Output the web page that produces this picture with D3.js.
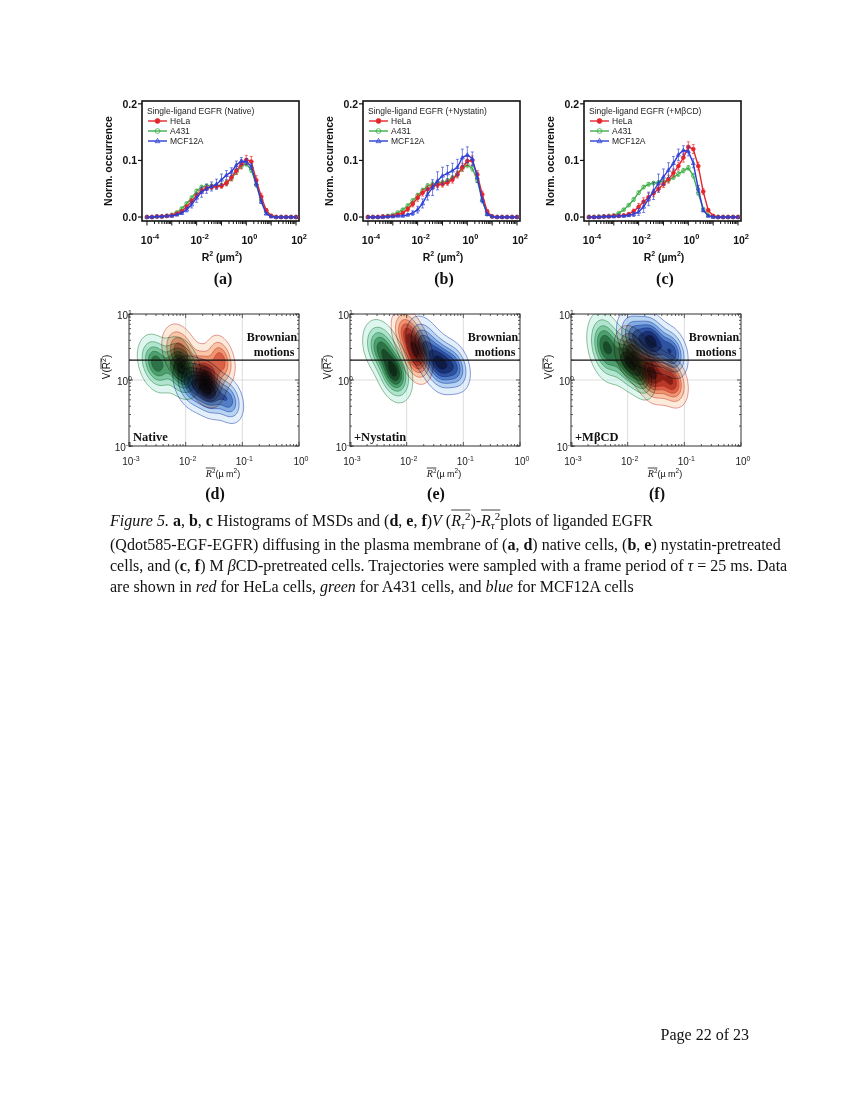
<!DOCTYPE html>
<html>
<head>
<meta charset="utf-8">
<script src="https://cdn.jsdelivr.net/npm/d3@7"></script>
<style>
  body { margin: 0; background: #fff; }
  svg { display: block; }
  text { white-space: pre; }
</style>
</head>
<body>
<svg width="850" height="1100"></svg>
<script>
// ---- data ----
// histogram bins, log10(R^2 / um^2)
const binLog = [-4,-3.8,-3.6,-3.4,-3.2,-3,-2.8,-2.6,-2.4,-2.2,-2,-1.8,-1.6,-1.4,-1.2,-1,-0.8,-0.6,-0.4,-0.2,0,0.2,0.4,0.6,0.8,1,1.2,1.4,1.6,1.8,2];
const cellLines = ['HeLa', 'A431', 'MCF12A'];
const topTitles = ['Single-ligand EGFR (Native)', 'Single-ligand EGFR (+Nystatin)', 'Single-ligand EGFR (+M\u03b2CD)'];
const treatLabels = ['Native', '+Nystatin', '+M\u03b2CD'];
const topPanelNames = ['(a)', '(b)', '(c)'];
const botPanelNames = ['(d)', '(e)', '(f)'];
const yTicksTop = [0, 0.1, 0.2];
const xTicksTop = [-4, -2, 0, 2];
const xTicksBot = [-3, -2, -1, 0];
const yTicksBot = [-1, 0, 1];
const brownianV = 2;

const helaNative = [0,0,0.001,0.001,0.002, 0.003,0.006,0.010,0.018,0.028, 0.038,0.047,0.051,0.053,0.054, 0.055,0.060,0.070,0.082,0.093, 0.101,0.098,0.065,0.036,0.012, 0.002,0,0,0,0,0];
const a431Native = [0,0,0.001,0.001,0.002, 0.004,0.008,0.015,0.024,0.034, 0.046,0.053,0.055,0.055,0.055, 0.056,0.060,0.068,0.080,0.090, 0.094,0.083,0.057,0.030,0.010, 0.002,0,0,0,0,0];
const mcfNative  = [0,0,0.001,0.001,0.002, 0.002,0.004,0.007,0.013,0.022, 0.034,0.044,0.050,0.054,0.058, 0.066,0.074,0.080,0.092,0.099, 0.098,0.089,0.059,0.027,0.006, 0.001,0,0,0,0,0];
const helaNys = [0,0,0,0.001,0.001, 0.002,0.004,0.007,0.014,0.023, 0.034,0.043,0.049,0.054,0.057, 0.058,0.061,0.066,0.075,0.088, 0.099,0.100,0.075,0.040,0.010, 0.001,0,0,0,0,0];
const a431Nys = [0,0,0,0.001,0.002, 0.004,0.008,0.013,0.020,0.029, 0.038,0.047,0.055,0.058,0.060, 0.061,0.064,0.069,0.076,0.086, 0.092,0.086,0.065,0.030,0.005, 0.001,0,0,0,0,0];
const mcfNys  = [0,0,0,0,0.001, 0.001,0.002,0.002,0.004,0.007, 0.013,0.024,0.040,0.052,0.064, 0.073,0.077,0.082,0.088,0.105, 0.110,0.103,0.070,0.030,0.005, 0.001,0,0,0,0,0];
const helaMbcd = [0,0,0,0.001,0.001, 0.002,0.002,0.003,0.005,0.010, 0.018,0.027,0.035,0.042,0.050, 0.058,0.067,0.078,0.090,0.105, 0.124,0.120,0.090,0.045,0.012, 0.002,0,0,0,0,0];
const a431Mbcd = [0,0,0.001,0.001,0.002, 0.003,0.007,0.013,0.021,0.031, 0.043,0.053,0.058,0.060,0.061, 0.063,0.065,0.070,0.076,0.082, 0.087,0.073,0.042,0.014,0.003, 0.001,0,0,0,0,0];
const mcfMbcd  = [0,0,0,0.001,0.001, 0.001,0.002,0.002,0.003,0.005, 0.009,0.018,0.032,0.046,0.060, 0.071,0.083,0.095,0.110,0.118, 0.116,0.095,0.050,0.012,0.002, 0,0,0,0,0,0];

const errHelaNative = [0,0,0,0,0, 0,0.001,0.002,0.003,0.004, 0.004,0.004,0.004,0.004,0.004, 0.004,0.005,0.006,0.007,0.008, 0.008,0.009,0.008,0.006,0.003, 0,0,0,0,0,0];
const errA431Native = [0,0,0,0,0, 0,0.001,0.002,0.002,0.003, 0.003,0.003,0.003,0.003,0.004, 0.004,0.004,0.004,0.004,0.004, 0.004,0.004,0.004,0.003,0.002, 0,0,0,0,0,0];
const errMcfNative  = [0,0,0,0,0, 0,0.001,0.002,0.004,0.006, 0.008,0.009,0.008,0.008,0.009, 0.010,0.008,0.007,0.007,0.006, 0.005,0.005,0.004,0.003,0.002, 0,0,0,0,0,0];
const errHelaNys = [0,0,0,0,0, 0,0.001,0.002,0.004,0.005, 0.006,0.006,0.006,0.005,0.005, 0.005,0.005,0.006,0.006,0.007, 0.008,0.008,0.007,0.006,0.003, 0,0,0,0,0,0];
const errA431Nys = [0,0,0,0,0, 0,0.001,0.002,0.003,0.003, 0.004,0.004,0.004,0.004,0.004, 0.004,0.004,0.004,0.005,0.005, 0.005,0.005,0.004,0.003,0.002, 0,0,0,0,0,0];
const errMcfNys  = [0,0,0,0,0, 0,0,0.001,0.002,0.004, 0.006,0.008,0.010,0.014,0.016, 0.015,0.014,0.013,0.014,0.015, 0.014,0.012,0.009,0.005,0.002, 0,0,0,0,0,0];
const errHelaMbcd = [0,0,0,0,0, 0,0,0.001,0.002,0.004, 0.006,0.007,0.007,0.006,0.006, 0.006,0.007,0.007,0.007,0.008, 0.009,0.008,0.007,0.005,0.003, 0,0,0,0,0,0];
const errA431Mbcd = [0,0,0,0,0, 0,0.001,0.002,0.002,0.003, 0.003,0.003,0.003,0.003,0.003, 0.003,0.003,0.003,0.004,0.004, 0.004,0.004,0.003,0.002,0.001, 0,0,0,0,0,0];
const errMcfMbcd  = [0,0,0,0,0, 0,0,0.001,0.002,0.004, 0.006,0.010,0.012,0.015,0.016, 0.014,0.013,0.012,0.010,0.008, 0.008,0.008,0.006,0.003,0.001, 0,0,0,0,0,0];

// density lobes for V(R2)-R2 plots: [log10 R2, log10 V, sx, sy, weight]
const lobesNativeGreen = [[-2.52,0.25,0.15,0.2,0.7],[-2.08,0.18,0.15,0.2,1.0]];
const lobesNativeRed   = [[-2.1,0.42,0.15,0.2,0.6],[-1.65,0.05,0.15,0.2,1.0],[-1.38,0.3,0.12,0.18,0.55]];
const lobesNativeBlue  = [[-1.9,-0.05,0.15,0.19,0.7],[-1.6,-0.15,0.15,0.19,1.0],[-1.25,-0.3,0.13,0.17,0.6]];
const lobesNysGreen = [[-2.45,0.48,0.15,0.2,0.7],[-2.22,0.12,0.14,0.2,1.0]];
const lobesNysRed   = [[-2.0,0.72,0.13,0.18,0.6],[-1.83,0.4,0.13,0.2,1.0]];
const lobesNysBlue  = [[-1.7,0.55,0.15,0.2,0.6],[-1.42,0.25,0.15,0.2,1.0],[-1.15,0.2,0.13,0.18,0.6]];
const lobesMbcdGreen = [[-2.38,0.5,0.15,0.24,0.85],[-1.98,0.28,0.15,0.2,1.0],[-1.75,0.05,0.12,0.17,0.5]];
const lobesMbcdRed   = [[-1.92,0.4,0.15,0.2,0.6],[-1.57,0.1,0.15,0.2,1.0],[-1.22,-0.02,0.13,0.18,0.75]];
const lobesMbcdBlue  = [[-1.88,0.65,0.15,0.2,0.6],[-1.57,0.58,0.15,0.2,1.0],[-1.22,0.42,0.13,0.18,0.75]];

const hist = [
  [helaNative, a431Native, mcfNative],
  [helaNys, a431Nys, mcfNys],
  [helaMbcd, a431Mbcd, mcfMbcd]
];
const histErr = [
  [errHelaNative, errA431Native, errMcfNative],
  [errHelaNys, errA431Nys, errMcfNys],
  [errHelaMbcd, errA431Mbcd, errMcfMbcd]
];
const lobes = [
  {green: lobesNativeGreen, red: lobesNativeRed, blue: lobesNativeBlue},
  {green: lobesNysGreen, red: lobesNysRed, blue: lobesNysBlue},
  {green: lobesMbcdGreen, red: lobesMbcdRed, blue: lobesMbcdBlue}
];

// ---- drawing ----
const svg = d3.select('svg');
const sans = 'Liberation Sans, Arial, sans-serif';
const serif = 'Liberation Serif, Times New Roman, serif';
const lineColor = ['#e3262b', '#3fae49', '#2b3fd6'];

// power-of-ten label: "10" + superscript
function pow10(sel, e, size, bold) {
  sel.append('tspan').text('10');
  sel.append('tspan').attr('dy', -size*0.45).attr('font-size', size*0.7).text(e);
  sel.attr('font-size', size).attr('font-weight', bold ? 'bold' : 'normal');
}

// lays out a list of styled runs on one baseline, with optional overlines
function runs(g, x, y, parts, base) {
  let cx = x, ovStart = null;
  parts.forEach(p => {
    const size = p.size || base.size;
    const t = g.append('text')
      .attr('x', cx).attr('y', y + (p.dy || 0))
      .attr('font-family', p.font || base.font)
      .attr('font-size', size)
      .attr('font-style', p.it ? 'italic' : 'normal')
      .attr('font-weight', p.b ? 'bold' : 'normal')
      .attr('fill', '#111')
      .text(p.t);
    if (p.ov0) ovStart = cx;
    cx += t.node().getComputedTextLength();
    if (p.ov1) {
      g.append('line').attr('x1', ovStart).attr('x2', cx)
        .attr('y1', y - p.ovY).attr('y2', y - p.ovY)
        .attr('stroke', '#111').attr('stroke-width', 0.8);
    }
  });
  return cx;
}

function marker(g, pts, s, r) {
  const c = lineColor[s];
  if (s === 2) {
    g.selectAll(null).data(pts).enter().append('path')
      .attr('d', d => `M${d[0]},${d[1]-r*1.1}L${d[0]+r},${d[1]+r*0.7}L${d[0]-r},${d[1]+r*0.7}Z`)
      .attr('fill', 'none').attr('stroke', c).attr('stroke-width', 0.8);
  } else {
    g.selectAll(null).data(pts).enter().append('circle')
      .attr('cx', d => d[0]).attr('cy', d => d[1]).attr('r', r)
      .attr('fill', s === 0 ? c : 'none').attr('stroke', c).attr('stroke-width', 0.8);
  }
}

// ---------- top row: histograms ----------
hist.forEach((series, k) => {
  const left = 142 + k*221, right = left + 157, top = 101, bottom = 221;
  const x = d3.scaleLog().domain([Math.pow(10, -4.2), Math.pow(10, 2.12)]).range([left, right]);
  const y = d3.scaleLinear().domain([-0.007, 0.205]).range([bottom, top]);
  const g = svg.append('g');

  // frame
  g.append('rect').attr('x', left).attr('y', top).attr('width', right-left).attr('height', bottom-top)
    .attr('fill', 'none').attr('stroke', '#111').attr('stroke-width', 1.6);

  // x ticks (outward), minor included
  const xt = [];
  for (let e = -4; e <= 2; e++) {
    for (let m = 1; m <= 9; m++) {
      const v = m * Math.pow(10, e);
      if (v > Math.pow(10, 2.1)) break;
      xt.push({v, major: m === 1});
    }
  }
  g.selectAll('.xt').data(xt).enter().append('line')
    .attr('x1', d => x(d.v)).attr('x2', d => x(d.v))
    .attr('y1', bottom).attr('y2', d => bottom + (d.major ? 4.5 : 3))
    .attr('stroke', '#111').attr('stroke-width', 1);
  g.selectAll('.xl').data(xTicksTop).enter().append('text')
    .attr('x', d => x(Math.pow(10, d)) + 3).attr('y', 244)
    .attr('text-anchor', 'middle').attr('font-family', sans).attr('fill', '#111')
    .each(function(d) { pow10(d3.select(this), d, 10.5, true); });

  // y ticks
  g.selectAll('.yt').data(yTicksTop).enter().append('line')
    .attr('x1', left - 4).attr('x2', left).attr('y1', d => y(d)).attr('y2', d => y(d))
    .attr('stroke', '#111').attr('stroke-width', 1.2);
  g.selectAll('.yl').data(yTicksTop).enter().append('text')
    .attr('x', left - 5).attr('y', d => y(d) + 3.8)
    .attr('text-anchor', 'end').attr('font-family', sans).attr('font-weight', 'bold')
    .attr('font-size', 10.5).attr('fill', '#111')
    .text(d => d.toFixed(1));

  // axis titles
  g.append('text')
    .attr('transform', `translate(${left - 30},161) rotate(-90)`)
    .attr('text-anchor', 'middle').attr('font-family', sans).attr('font-weight', 'bold')
    .attr('font-size', 10.5).attr('fill', '#111').text('Norm. occurrence');
  const xt2 = g.append('text').attr('x', left + 80).attr('y', 261)
    .attr('text-anchor', 'middle').attr('font-family', sans).attr('font-weight', 'bold')
    .attr('font-size', 10.5).attr('fill', '#111');
  xt2.append('tspan').text('R');
  xt2.append('tspan').attr('dy', -5).attr('font-size', 7).text('2');
  xt2.append('tspan').attr('dy', 5).text(' (\u00b5m');
  xt2.append('tspan').attr('dy', -5).attr('font-size', 7).text('2');
  xt2.append('tspan').attr('dy', 5).text(')');

  // panel label
  g.append('text').attr('x', left + 81).attr('y', 284).attr('text-anchor', 'middle')
    .attr('font-family', serif).attr('font-weight', 'bold').attr('font-size', 16)
    .attr('fill', '#111').text(topPanelNames[k]);

  // series: green first, then red, then blue on top
  const order = [1, 0, 2];
  const line = d3.line().x((d, i) => x(Math.pow(10, binLog[i]))).y(d => y(d));
  order.forEach(s => {
    const vals = series[s], errs = histErr[k][s], c = lineColor[s];
    const sg = g.append('g');
    // error bars
    const eb = vals.map((v, i) => ({v, e: errs[i], i})).filter(d => d.e > 0);
    sg.selectAll('.eb').data(eb).enter().append('path')
      .attr('d', d => {
        const px = x(Math.pow(10, binLog[d.i])), y0 = y(d.v - d.e), y1 = y(d.v + d.e);
        return `M${px},${y0}V${y1}M${px-1.5},${y1}H${px+1.5}M${px-1.5},${y0}H${px+1.5}`;
      })
      .attr('stroke', c).attr('stroke-width', 0.8).attr('fill', 'none').attr('opacity', 0.8);
    sg.append('path').datum(vals).attr('d', line)
      .attr('fill', 'none').attr('stroke', c).attr('stroke-width', 1.4);
    marker(sg, vals.map((v, i) => [x(Math.pow(10, binLog[i])), y(v)]), s, 1.9);
  });

  // legend
  const lg = g.append('g').attr('font-family', sans).attr('font-size', 8.5).attr('fill', '#222');
  lg.append('text').attr('x', left + 5).attr('y', 114).text(topTitles[k]);
  cellLines.forEach((name, s) => {
    const cy = 121 + s*10;
    lg.append('line').attr('x1', left + 6).attr('x2', left + 25).attr('y1', cy).attr('y2', cy)
      .attr('stroke', lineColor[s]).attr('stroke-width', 1.4);
    marker(lg, [[left + 15.5, cy]], s, 2.4);
    lg.append('text').attr('x', left + 28).attr('y', cy + 3).text(name);
  });
});

// ---------- bottom row: V(R2) vs R2 density contours ----------
const popStyle = {
  green: {ramp: ['#bdeee2', '#7dd0a4', '#3c9e60', '#1d5e34', '#0a2414'], stroke: '#4a9458'},
  red:   {ramp: ['#fad8b8', '#f39a68', '#dc4a36', '#9c1c1c', '#300606'], stroke: '#cf5a58'},
  blue:  {ramp: ['#c8e2f6', '#86b6e6', '#3a78c6', '#1b3f8c', '#081636'], stroke: '#3c58c0'}
};
const levels = [0.06, 0.18, 0.32, 0.46, 0.6, 0.75, 0.9];

lobes.forEach((pops, k) => {
  const left = 129 + k*221, right = left + 170, top = 314, bottom = 446;
  const x = d3.scaleLog().domain([1e-3, 1]).range([left, right]);
  const y = d3.scaleLog().domain([0.1, 10]).range([bottom, top]);
  const g = svg.append('g');
  const clipId = 'clip' + k;
  svg.append('defs').append('clipPath').attr('id', clipId).append('rect')
    .attr('x', left).attr('y', top).attr('width', right-left).attr('height', bottom-top);

  // grid
  [0.01, 0.1].forEach(v => g.append('line').attr('x1', x(v)).attr('x2', x(v)).attr('y1', top).attr('y2', bottom)
    .attr('stroke', '#cfcfcf').attr('stroke-width', 0.7));
  g.append('line').attr('x1', left).attr('x2', right).attr('y1', y(1)).attr('y2', y(1))
    .attr('stroke', '#cfcfcf').attr('stroke-width', 0.7);

  // density grid per population
  const cell = 2, nx = Math.ceil((right-left)/cell), ny = Math.ceil((bottom-top)/cell);
  const rho = -0.28;
  const cg = g.append('g').attr('clip-path', `url(#${clipId})`)
    .append('g').attr('transform', `translate(${left},${top})`);
  const path = d3.geoPath(d3.geoIdentity().scale(cell));
  ['green', 'red', 'blue'].forEach(name => {
    const lb = pops[name];
    const vals = new Float64Array(nx*ny);
    for (let j = 0; j < ny; j++) {
      const ly = Math.log10(y.invert(top + (j + 0.5)*cell));
      for (let i = 0; i < nx; i++) {
        const lx = Math.log10(x.invert(left + (i + 0.5)*cell));
        let s = 0;
        lb.forEach(b => {
          const dx = (lx - b[0]) / b[2], dy = (ly - b[1]) / b[3];
          s += b[4] * Math.exp(-(dx*dx - 2*rho*dx*dy + dy*dy) / (2*(1 - rho*rho)));
        });
        vals[j*nx + i] = s;
      }
    }
    const mx = d3.max(vals);
    const st = popStyle[name];
    const col = d3.scaleSequential(d3.interpolateRgbBasis(st.ramp)).domain([0, levels.length - 1]);
    const cs = d3.contours().size([nx, ny]).thresholds(levels.map(f => f*mx))(Array.from(vals));
    cg.selectAll(null).data(cs).enter().append('path')
      .attr('d', path)
      .attr('fill', (d, i) => col(i))
      .attr('fill-opacity', 0.5)
      .style('mix-blend-mode', 'multiply')
      .attr('stroke', st.stroke).attr('stroke-width', 0.7).attr('stroke-opacity', 0.85);
  });

  // Brownian line
  g.append('line').attr('x1', left).attr('x2', right).attr('y1', y(brownianV)).attr('y2', y(brownianV))
    .attr('stroke', '#111').attr('stroke-width', 1.4);

  // frame and inward ticks
  g.append('rect').attr('x', left).attr('y', top).attr('width', right-left).attr('height', bottom-top)
    .attr('fill', 'none').attr('stroke', '#333').attr('stroke-width', 1);
  const tk = [];
  for (let e = -3; e <= 0; e++) for (let m = 1; m <= 9; m++) {
    const v = m*Math.pow(10, e); if (v > 1) break; tk.push({v, major: m === 1});
  }
  const tky = [];
  for (let e = -1; e <= 1; e++) for (let m = 1; m <= 9; m++) {
    const v = m*Math.pow(10, e); if (v > 10) break; tky.push({v, major: m === 1});
  }
  g.selectAll('.tx').data(tk).enter().append('path')
    .attr('d', d => { const L = d.major ? 4 : 2; const px = x(d.v);
      return `M${px},${bottom}v${-L}M${px},${top}v${L}`; })
    .attr('stroke', '#333').attr('stroke-width', 0.8);
  g.selectAll('.ty').data(tky).enter().append('path')
    .attr('d', d => { const L = d.major ? 4 : 2; const py = y(d.v);
      return `M${left},${py}h${L}M${right},${py}h${-L}`; })
    .attr('stroke', '#333').attr('stroke-width', 0.8);

  // tick labels
  g.selectAll('.xl').data(xTicksBot).enter().append('text')
    .attr('x', d => x(Math.pow(10, d)) + 2).attr('y', 465)
    .attr('text-anchor', 'middle').attr('font-family', sans).attr('fill', '#222')
    .each(function(d) { pow10(d3.select(this), d, 10, false); });
  g.selectAll('.yl').data(yTicksBot).enter().append('text')
    .attr('x', left + 3).attr('y', d => y(Math.pow(10, d)) + 5)
    .attr('text-anchor', 'end').attr('font-family', sans).attr('fill', '#222')
    .each(function(d) { pow10(d3.select(this), d, 10, false); });

  // axis titles
  const xtg = g.append('g');
  const w0 = runs(xtg, 0, 0, [
    {t: 'R', it: true, font: serif, size: 10, ov0: true},
    {t: '2', font: serif, size: 7, dy: -4, ov1: true, ovY: 9},
    {t: '(\u00b5 m', font: sans, size: 9},
    {t: '2', font: sans, size: 6.5, dy: -4},
    {t: ')', font: sans, size: 9}
  ], {font: sans, size: 10});
  xtg.attr('transform', `translate(${left + 94 - w0/2},477)`);
  const ytg = g.append('g');
  const w1 = runs(ytg, 0, 0, [
    {t: 'V(', font: sans, size: 10},
    {t: 'R', font: sans, size: 10, ov0: true},
    {t: '2', font: sans, size: 7, dy: -4, ov1: true, ovY: 9},
    {t: ')', font: sans, size: 10}
  ], {font: sans, size: 10});
  ytg.attr('transform', `translate(${left - 19},${367 + w1/2}) rotate(-90)`);

  // annotations
  const ann = g.append('g').attr('font-family', serif).attr('font-weight', 'bold')
    .attr('font-size', 12).attr('fill', '#111').attr('text-anchor', 'middle');
  ann.append('text').attr('x', right - 27).attr('y', 341).text('Brownian');
  ann.append('text').attr('x', right - 25).attr('y', 356).text('motions');
  g.append('text').attr('x', left + 4).attr('y', 441).attr('font-family', serif)
    .attr('font-weight', 'bold').attr('font-size', 12.5).attr('fill', '#111').text(treatLabels[k]);

  g.append('text').attr('x', left + 86).attr('y', 499).attr('text-anchor', 'middle')
    .attr('font-family', serif).attr('font-weight', 'bold').attr('font-size', 16)
    .attr('fill', '#111').text(botPanelNames[k]);
});

// ---------- caption ----------
const cap = svg.append('g');
const base = {font: serif, size: 16};
runs(cap, 110, 526, [
  {t: 'Figure 5.', it: true}, {t: ' '}, {t: 'a', b: true}, {t: ', '}, {t: 'b', b: true}, {t: ', '},
  {t: 'c', b: true}, {t: ' Histograms of MSDs and ('}, {t: 'd', b: true}, {t: ', '}, {t: 'e', b: true},
  {t: ', '}, {t: 'f', b: true}, {t: ')'}, {t: 'V', it: true}, {t: ' ('},
  {t: 'R', it: true, ov0: true}, {t: '\u03c4', it: true, size: 11, dy: 3}, {t: '2', size: 11, dy: -6, ov1: true, ovY: 16},
  {t: ')-'}, {t: 'R', it: true, ov0: true}, {t: '\u03c4', it: true, size: 11, dy: 3}, {t: '2', size: 11, dy: -6, ov1: true, ovY: 16},
  {t: 'plots of liganded EGFR'}
], base);
runs(cap, 110, 550, [
  {t: '(Qdot585-EGF-EGFR) diffusing in the plasma membrane of ('}, {t: 'a', b: true}, {t: ', '},
  {t: 'd', b: true}, {t: ') native cells, ('}, {t: 'b', b: true}, {t: ', '}, {t: 'e', b: true},
  {t: ') nystatin-pretreated'}
], base);
runs(cap, 110, 571, [
  {t: 'cells, and ('}, {t: 'c', b: true}, {t: ', '}, {t: 'f', b: true}, {t: ') M '},
  {t: '\u03b2', it: true}, {t: 'CD-pretreated cells. Trajectories were sampled with a frame period of '},
  {t: '\u03c4', it: true}, {t: ' = 25 ms. Data'}
], base);
runs(cap, 110, 592, [
  {t: 'are shown in '}, {t: 'red', it: true}, {t: ' for HeLa cells, '}, {t: 'green', it: true},
  {t: ' for A431 cells, and '}, {t: 'blue', it: true}, {t: ' for MCF12A cells'}
], base);

svg.append('text').attr('x', 749).attr('y', 1040).attr('text-anchor', 'end')
  .attr('font-family', serif).attr('font-size', 16).attr('fill', '#111').text('Page 22 of 23');
</script>
</body>
</html>
